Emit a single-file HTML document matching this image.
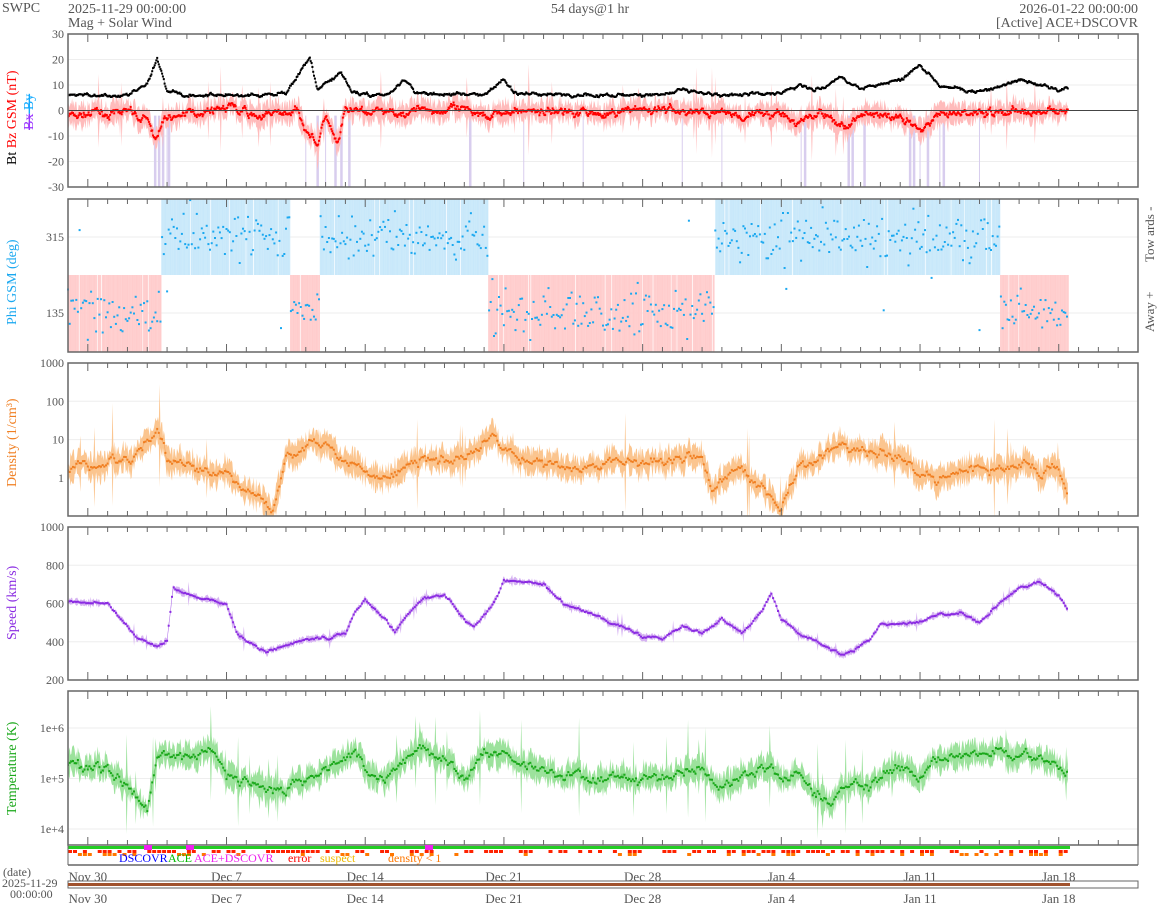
<!DOCTYPE html><html><head><meta charset="utf-8"><style>body{margin:0;background:#fff}svg{display:block;font-family:"Liberation Serif",serif}</style></head><body>
<svg id="s" width="1158" height="905" xmlns="http://www.w3.org/2000/svg"></svg>
<script>
var X0=68,X1=1138,S='';
function px(d){return X0+d*(X1-X0)/54;}
var seed=7;function rnd(){seed=(seed*16807)%2147483647;return seed/2147483647;}
function gau(){return rnd()+rnd()+rnd()-1.5;}
function interp(k,d){for(var i=0;i<k.length-2;i+=2){if(d<=k[i+2]){var t=(d-k[i])/(k[i+2]-k[i]);return k[i+1]+(k[i+3]-k[i+1])*t;}}return k[k.length-1];}
function T(x,y,t,o){S+='<text x="'+x+'" y="'+y+'" '+(o||'')+'>'+t+'</text>';}
function frame(top,bot,yt){
 yt.forEach(function(a){S+='<line x1="'+X0+'" x2="'+X1+'" y1="'+a[0]+'" y2="'+a[0]+'" stroke="#eee"/>';T(64,a[0]+4,a[1],'text-anchor="end" font-size="12" fill="#555"');});
}
function ticks(top,bot){for(var d=0;d<=54;d++){var x=px(d);var L=(d-1)%7==0?8:5;S+='<line x1="'+x+'" x2="'+x+'" y1="'+top+'" y2="'+(top+L)+'" stroke="#666"/><line x1="'+x+'" x2="'+x+'" y1="'+bot+'" y2="'+(bot-L)+'" stroke="#666"/>';}
 S+='<rect x="'+X0+'" y="'+top+'" width="'+(X1-X0)+'" height="'+(bot-top)+'" fill="none" stroke="#666" stroke-width="1.5"/>';}
function series(k,map,col,band,noise,amp,ar,dots,sh){
 var pts=[],n=0,lo=[],hi=[];
 for(var i=0;i<1212;i++){var d=i/24;n=n*ar+gau()*noise;var v=interp(k,d)+n;var x=px(d);pts.push([x,map(v)]);
  var a=amp*(0.3+rnd()*1.2);if(rnd()<0.03)a*=3;hi.push(x+','+map(v+a).toFixed(1));lo.unshift(x+','+map(v-a).toFixed(1));}
 S+='<polygon points="'+hi.join(' ')+' '+lo.join(' ')+'" fill="'+band+'"/>';
 S+='<path d="M'+pts.map(function(p){return p[0].toFixed(1)+','+p[1].toFixed(1)}).join('L')+'" fill="none" stroke="'+col+'" stroke-width="0.5" opacity="0.6"/>';
 var c='';pts.forEach(function(p,i){if(i%(dots||1)==0)c+='<rect x="'+(p[0]-1).toFixed(1)+'" y="'+(p[1]-1).toFixed(1)+'" width="2" height="2" fill="'+col+'"/>';});S+=c;
}
T(2,12,'SWPC','font-size="14" fill="#555"');T(68,13,'2025-11-29 00:00:00','font-size="14" fill="#555"');T(68,27,'Mag + Solar Wind','font-size="14" fill="#555"');
T(590,13,'54 days@1 hr','font-size="14" fill="#555" text-anchor="middle"');T(1138,13,'2026-01-22 00:00:00','font-size="14" fill="#555" text-anchor="end"');T(1138,27,'[Active] ACE+DSCOVR','font-size="14" fill="#555" text-anchor="end"');
var m1=function(v){return 34+(30-v)/60*153;};
S+='<svg x="0" y="0" width="1158" height="905"><clipPath id="c1"><rect x="68" y="34" width="1070" height="153"/></clipPath></svg>';
frame(34,187,[[34,30],[m1(20),20],[m1(10),10],[m1(0),0],[m1(-10),-10],[m1(-20),-20],[187,-30]]);
S+='<g clip-path="url(#c1)">';
[4.4,4.6,4.8,5,5.1,12,12.6,13,13.5,13.8,14.2,20.3,37,37.2,39.4,39.6,40.2,42.5,42.7,43,43.4,44,44.2,23,26,31,33,46].forEach(function(d){S+='<line x1="'+px(d)+'" x2="'+px(d)+'" y1="'+m1(-2)+'" y2="187" stroke="#d8cdee" stroke-width="'+(d%1==0?1:2.5)+'"/>';});
series([0,-2,3,-1,4,-4,4.5,-11,5,-3,6,-1,8,1,9,-1,10,-2,11.5,0,12,-6,12.6,-14,13,-3,13.6,-14,14,-1,17,0,19,0,21,-1,22,-1,24,0,27,-1,30,0,32,-1,36,-2,37,-5,38,-1,39.4,-7,40,-1,42.5,-4,43,-8,44,-2,47,0,50,-1,50.5,0],m1,'#f00','#fbb',1.3,4,0.75);
series([0,6,3,6,4,10,4.5,20,5,8,6,6,8,6,10,6,11,7,11.8,16,12.2,21,12.6,8,13.3,12,13.8,15,14.3,8,15,6,16,6,17,12,17.5,7,21,6,22,12,22.5,7,25,6,30,6,31,8,33,6,36,7,37,10,38,8,39,13,40,9,42,12,43,18,44,10,46,7,48,12,49,10,50,8,50.5,9],m1,'#000','rgba(0,0,0,0)',0.55,0.1,0.7);
S+='</g><line x1="68" x2="1138" y1="'+m1(0)+'" y2="'+m1(0)+'" stroke="#444"/>';
ticks(34,187);
S+='<g transform="translate(16,165) rotate(-90)"><text font-size="14"><tspan fill="#000">Bt </tspan><tspan fill="#f00"> Bz GSM (nT)</tspan></text></g>';
S+='<g transform="translate(33,130) rotate(-90)"><text font-size="14"><tspan fill="#93f" text-decoration="line-through">Bx</tspan><tspan fill="#1af" text-decoration="line-through"> By</tspan></text></g>';
frame(199,352,[[237,315],[313,135]]);
function away(d){return d<4.7||(11.2<d&&d<12.7)||(21.2<d&&d<32.6)||d>47;}
var sec='';for(var i=0;i<1212;i++){var d=i/24,x=px(d);if(rnd()<0.04)continue;sec+=away(d)?'<rect x="'+x.toFixed(1)+'" y="275" width="0.95" height="77" fill="#fcc"/>':((d>=21.2&&d<30)?'':'<rect x="'+x.toFixed(1)+'" y="199" width="0.95" height="76" fill="#c8e8fa"/>');}
S+=sec;
var pp='';for(var i=0;i<1212;i+=2){var d=i/24,x=px(d);var y=(away(d)?313:237)+gau()*22;if(rnd()<0.03)y=200+rnd()*150;y=Math.max(200,Math.min(350,y));pp+='<rect x="'+(x-1).toFixed(1)+'" y="'+(y-1).toFixed(1)+'" width="2" height="2" fill="#1aa8f0"/>';}
S+=pp;ticks(199,352);
T(0,0,'Phi GSM (deg)','font-size="14" fill="#1aa8f0" transform="translate(16,325) rotate(-90)"');
T(0,0,'Away +','font-size="13" fill="#555" transform="translate(1154,332) rotate(-90)"');
T(0,0,'Tow ards -','font-size="13" fill="#555" transform="translate(1154,262) rotate(-90)"');
var m3=function(l){return 363+(3-l)*38.3;};
S+='<svg><clipPath id="c3"><rect x="68" y="363" width="1070" height="153"/></clipPath><clipPath id="c4"><rect x="68" y="527" width="1070" height="153"/></clipPath><clipPath id="c5"><rect x="68" y="691" width="1070" height="154"/></clipPath></svg>';
frame(363,516,[[363,1000],[m3(2),100],[m3(1),10],[m3(0),1]]);
S+='<g clip-path="url(#c3)">';
series([0,0.2,3,0.4,4.5,1.3,5,0.5,6,0.4,8,0.2,9,-0.3,10,-0.7,10.3,-1,11,0.6,12,0.8,13,0.9,14,0.5,15,0.2,16,0,17,0.3,18,0.5,19,0.4,20,0.5,21.5,1.1,22,0.6,24,0.4,26,0.3,28,0.4,30,0.5,32,0.6,32.5,-0.3,34,0.2,35,-0.2,36,-0.8,37,0.5,38,0.6,38.5,0.8,40,0.8,42,0.6,43,0.2,44,0,46,0.2,48,0.3,50,0.3,50.5,-0.4],m3,'#f07f22','#fbc58f',0.09,0.3,0.85,2);
S+='</g>';ticks(363,516);
T(0,0,'Density (1/cm³)','font-size="14" fill="#f07f22" transform="translate(16,487) rotate(-90)"');
var m4=function(v){return 527+(1000-v)/800*153;};
frame(527,680,[[527,1000],[m4(800),800],[m4(600),600],[m4(400),400],[680,200]]);
S+='<g clip-path="url(#c4)">';
series([0,610,2,600,3.5,420,4.5,380,5,400,5.3,680,6,650,7,620,8,600,8.5,450,9,400,10,350,11,380,12,410,13,420,14,450,14.5,560,15,620,16,520,16.5,460,17.5,580,18,630,19,650,20,520,20.5,480,21.5,600,22,720,24,700,25,600,27,520,29,430,30,420,31,480,32,450,33,520,34,440,35,560,35.5,650,36,520,37,440,38,390,39,330,39.5,350,40.5,420,41,490,43,500,44,540,45,550,46,500,47,600,48,680,49,710,50,640,50.5,560],m4,'#8a2be2','#d6b3f2',5,15,0.8,2);
S+='</g>';ticks(527,680);
T(0,0,'Speed (km/s)','font-size="14" fill="#8a2be2" transform="translate(16,640) rotate(-90)"');
var m5=function(l){return 728+(6-l)*50.5;};
frame(691,845,[[728,'1e+6'],[m5(5),'1e+5'],[m5(4),'1e+4']]);
S+='<g clip-path="url(#c5)">';
series([0,5.3,2,5.2,3.5,4.7,4,4.3,4.5,5.3,5,5.5,6,5.45,7.5,5.4,8,5,10,4.8,12,5,14,5.3,14.5,5.6,15,5.2,16,5,17,5.4,18,5.6,19,5.3,20,4.9,21,5.5,22,5.4,24,5.2,26,5,28,5,30,5.1,32,5.2,33,4.9,35,5.3,36,5.0,37,5.1,38,4.6,38.5,4.4,39,4.8,40,4.8,41,5.1,42,5.3,43,5,44,5.4,46,5.5,48,5.5,50,5.2],m5,'#1aa81a','#9ce29c',0.07,0.22,0.85,2);
S+='</g>';ticks(691,845);
T(0,0,'Temperature (K)','font-size="14" fill="#1aa81a" transform="translate(16,815) rotate(-90)"');
S+='<rect x="68" y="846" width="1002" height="3" fill="#2c2"/>';
var f='';for(var d=0;d<50.5;d+=0.25){if(rnd()<0.55)f+='<rect x="'+px(d).toFixed(1)+'" y="850" width="4" height="3" fill="#f20"/>';if(rnd()<0.25)f+='<rect x="'+px(d).toFixed(1)+'" y="853" width="4" height="3" fill="#f70"/>';}
S+=f+'<rect x="144" y="845" width="8" height="5" fill="#e2e"/><rect x="186" y="845" width="8" height="5" fill="#e2e"/><rect x="425" y="845" width="8" height="5" fill="#e2e"/>';
S+='<line x1="68" x2="1138" y1="865" y2="865" stroke="#666" stroke-width="1.5"/><line x1="68" x2="68" y1="845" y2="865" stroke="#666"/><line x1="1138" x2="1138" y1="845" y2="865" stroke="#666"/>';
T(119,862,'DSCOVR','font-size="12" fill="#00f"');T(168,862,'ACE','font-size="12" fill="#0b0"');T(194,862,'ACE+DSCOVR','font-size="12" fill="#e2e"');T(288,862,'error','font-size="12" fill="#f00"');T(320,862,'suspect','font-size="12" fill="#eb0"');T(388,862,'density &lt; 1','font-size="12" fill="#f70"');
var labs=['Nov 30','Dec 7','Dec 14','Dec 21','Dec 28','Jan 4','Jan 11','Jan 18'];
labs.forEach(function(l,i){var x=px(1+7*i);T(x,881,l,'font-size="13" fill="#555" text-anchor="middle"');T(x,903,l,'font-size="13" fill="#555" text-anchor="middle"');});
S+='<rect x="68" y="881" width="1070" height="7" fill="none" stroke="#666"/><rect x="68" y="883" width="1002" height="3" fill="#a0522d"/>';
T(3,876,'(date)','font-size="12" fill="#555"');T(2,887,'2025-11-29','font-size="12" fill="#555"');T(10,898,'00:00:00','font-size="12" fill="#555"');
document.getElementById('s').innerHTML=S;
</script></body></html>
